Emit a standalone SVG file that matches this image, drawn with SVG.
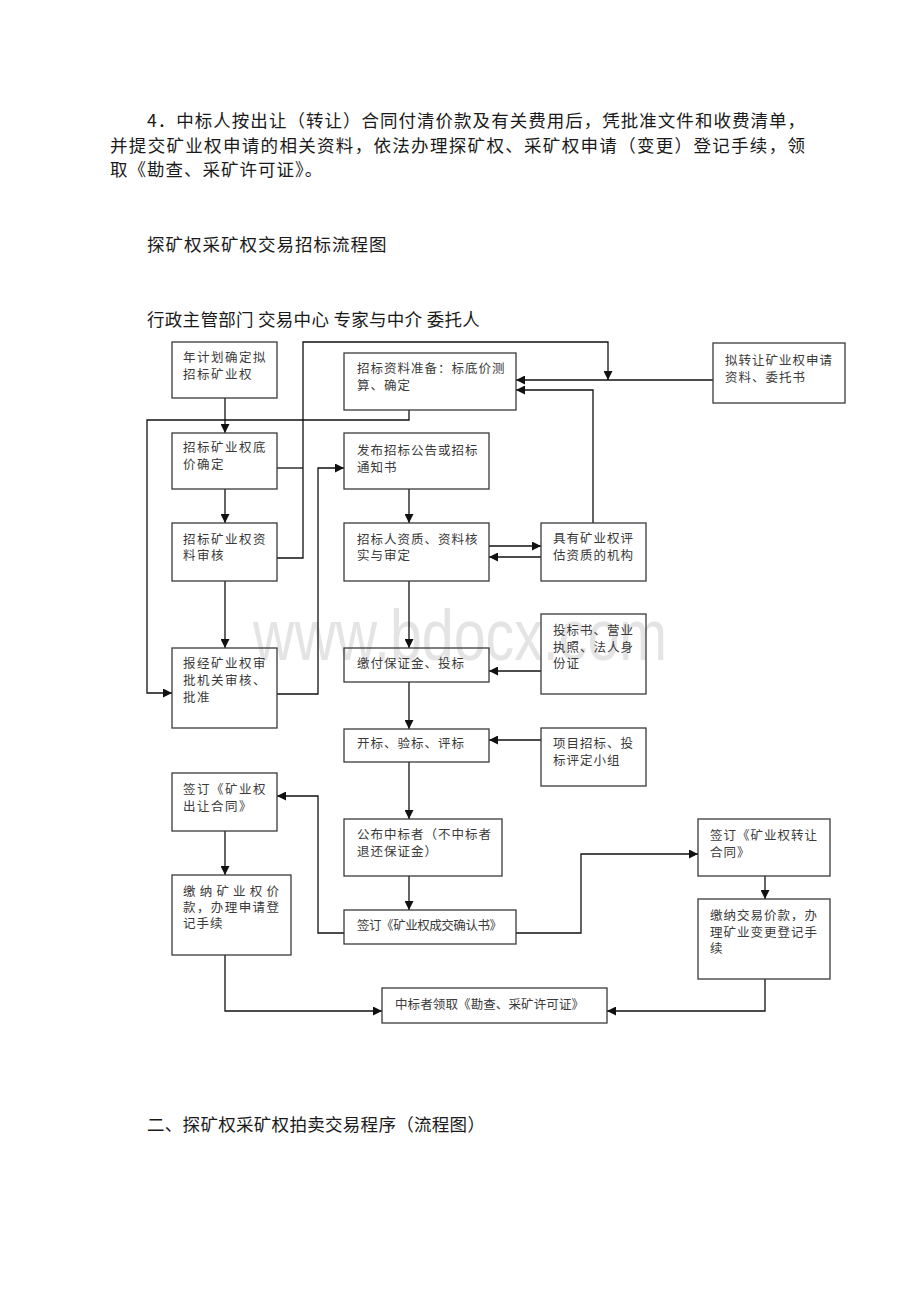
<svg xmlns="http://www.w3.org/2000/svg" width="920" height="1302" viewBox="0 0 920 1302">
<style>
.doc{font-family:"Noto Sans CJK SC","Noto Sans",sans-serif;font-size:17.5px;fill:#1a1a1a}
.box rect{fill:none;stroke:#3a3a3a;stroke-width:1.3}
.box text{font-family:"Noto Sans CJK SC","Noto Sans",sans-serif;font-size:12.5px;fill:#3a3a3a;letter-spacing:1px}
.lc text{letter-spacing:1.5px}
.wm{font-family:"Liberation Sans",Arial,sans-serif;font-size:72px;fill:#e4e4e4}
#connectors path{fill:none;stroke:#111;stroke-width:1.3}
</style>
<defs>
<marker id="ah" viewBox="0 0 10 10" refX="10" refY="5" markerWidth="9" markerHeight="9" markerUnits="userSpaceOnUse" orient="auto">
<path d="M0,0 L10,5 L0,10 z" fill="#111"/>
</marker>
</defs>
<rect width="920" height="1302" fill="#fff"/>
<text class="wm" x="253" y="660" textLength="414" lengthAdjust="spacingAndGlyphs">www.bdocx.com</text>

<g id="header">
<text class="doc" x="147" y="127" textLength="658" lengthAdjust="spacing">4．中标人按出让（转让）合同付清价款及有关费用后，凭批准文件和收费清单，</text>
<text class="doc" x="110" y="152" textLength="695" lengthAdjust="spacing">并提交矿业权申请的相关资料，依法办理探矿权、采矿权申请（变更）登记手续，领</text>
<text class="doc" x="110" y="176" letter-spacing="1">取《勘查、采矿许可证》。</text>
<text class="doc" x="147" y="251" letter-spacing="1">探矿权采矿权交易招标流程图</text>
<text class="doc" x="147" y="326" letter-spacing="0.3">行政主管部门 交易中心 专家与中介 委托人</text>
<text class="doc" x="147" y="1131" letter-spacing="0.3">二、探矿权采矿权拍卖交易程序（流程图）</text>
</g>

<g id="connectors">
<path d="M225,398 V433" marker-end="url(#ah)"/>
<path d="M225,489 V523" marker-end="url(#ah)"/>
<path d="M225,581 V648" marker-end="url(#ah)"/>
<path d="M277,558 H303 V342 H608 V380" marker-end="url(#ah)"/>
<path d="M277,468 H303"/>
<path d="M713,380 H516" marker-end="url(#ah)"/>
<path d="M409,410 V420 H147 V693 H172" marker-end="url(#ah)"/>
<path d="M277,694 H318 V468 H344" marker-end="url(#ah)"/>
<path d="M409,489 V523" marker-end="url(#ah)"/>
<path d="M409,581 V648" marker-end="url(#ah)"/>
<path d="M593,523 V390 H516" marker-end="url(#ah)"/>
<path d="M489,546 H541" marker-end="url(#ah)"/>
<path d="M541,557 H489" marker-end="url(#ah)"/>
<path d="M541,671 H489" marker-end="url(#ah)"/>
<path d="M409,682 V729" marker-end="url(#ah)"/>
<path d="M541,740 H489" marker-end="url(#ah)"/>
<path d="M409,762 V819" marker-end="url(#ah)"/>
<path d="M409,876 V910" marker-end="url(#ah)"/>
<path d="M344,933 H318 V796 H277" marker-end="url(#ah)"/>
<path d="M516,933 H581 V854 H698" marker-end="url(#ah)"/>
<path d="M225,831 V875" marker-end="url(#ah)"/>
<path d="M765,876 V899" marker-end="url(#ah)"/>
<path d="M225,955 V1011 H382" marker-end="url(#ah)"/>
<path d="M765,979 V1011 H607" marker-end="url(#ah)"/>
</g>

<g id="n_plan" class="box lc"><rect x="172" y="342" width="105" height="56"/>
<text x="183" y="362">年计划确定拟</text><text x="183" y="379">招标矿业权</text></g>
<g id="n_price" class="box lc"><rect x="172" y="433" width="105" height="56"/>
<text x="183" y="452">招标矿业权底</text><text x="183" y="469">价确定</text></g>
<g id="n_review" class="box lc"><rect x="172" y="523" width="105" height="58"/>
<text x="183" y="544">招标矿业权资</text><text x="183" y="560">料审核</text></g>
<g id="n_approve" class="box lc"><rect x="172" y="648" width="105" height="80"/>
<text x="183" y="668">报经矿业权审</text><text x="183" y="685">批机关审核、</text><text x="183" y="702">批准</text></g>
<g id="n_prep" class="box"><rect x="344" y="353" width="172" height="57"/>
<text x="357" y="373">招标资料准备：标底价测</text><text x="357" y="390">算、确定</text></g>
<g id="n_transfer" class="box"><rect x="713" y="343" width="132" height="60"/>
<text x="725" y="365">拟转让矿业权申请</text><text x="725" y="382">资料、委托书</text></g>
<g id="n_notice" class="box"><rect x="344" y="433" width="145" height="56"/>
<text x="357" y="455">发布招标公告或招标</text><text x="357" y="472">通知书</text></g>
<g id="n_qual" class="box"><rect x="344" y="523" width="145" height="58"/>
<text x="357" y="544">招标人资质、资料核</text><text x="357" y="560">实与审定</text></g>
<g id="n_eval" class="box"><rect x="541" y="523" width="105" height="58"/>
<text x="553" y="543">具有矿业权评</text><text x="553" y="560">估资质的机构</text></g>
<g id="n_deposit" class="box"><rect x="344" y="648" width="145" height="34"/>
<text x="357" y="668">缴付保证金、投标</text></g>
<g id="n_docs" class="box"><rect x="541" y="614" width="105" height="80"/>
<text x="553" y="635">投标书、营业</text><text x="553" y="652">执照、法人身</text><text x="553" y="668">份证</text></g>
<g id="n_open" class="box"><rect x="344" y="729" width="145" height="33"/>
<text x="357" y="748">开标、验标、评标</text></g>
<g id="n_panel" class="box"><rect x="541" y="728" width="105" height="58"/>
<text x="553" y="748">项目招标、投</text><text x="553" y="765">标评定小组</text></g>
<g id="n_sign_out" class="box lc"><rect x="172" y="773" width="105" height="58"/>
<text x="183" y="794">签订《矿业权</text><text x="183" y="811">出让合同》</text></g>
<g id="n_winner" class="box"><rect x="344" y="819" width="158" height="57"/>
<text x="357" y="839">公布中标者（不中标者</text><text x="357" y="856">退还保证金）</text></g>
<g id="n_confirm" class="box"><rect x="344" y="910" width="172" height="34"/>
<text x="357" y="930" textLength="146" lengthAdjust="spacing">签订《矿业权成交确认书》</text></g>
<g id="n_sign_tr" class="box"><rect x="698" y="819" width="132" height="57"/>
<text x="710" y="840">签订《矿业权转让</text><text x="710" y="857">合同》</text></g>
<g id="n_pay_out" class="box"><rect x="172" y="875" width="119" height="80"/>
<text x="183" y="896" textLength="97" lengthAdjust="spacing">缴纳矿业权价</text><text x="183" y="912" textLength="97" lengthAdjust="spacing">款，办理申请登</text><text x="183" y="928">记手续</text></g>
<g id="n_pay_tr" class="box"><rect x="698" y="899" width="132" height="80"/>
<text x="710" y="920">缴纳交易价款，办</text><text x="710" y="937">理矿业变更登记手</text><text x="710" y="953">续</text></g>
<g id="n_final" class="box"><rect x="382" y="988" width="225" height="35"/>
<text x="395" y="1009" textLength="190" lengthAdjust="spacing">中标者领取《勘查、采矿许可证》</text></g>
</svg>
